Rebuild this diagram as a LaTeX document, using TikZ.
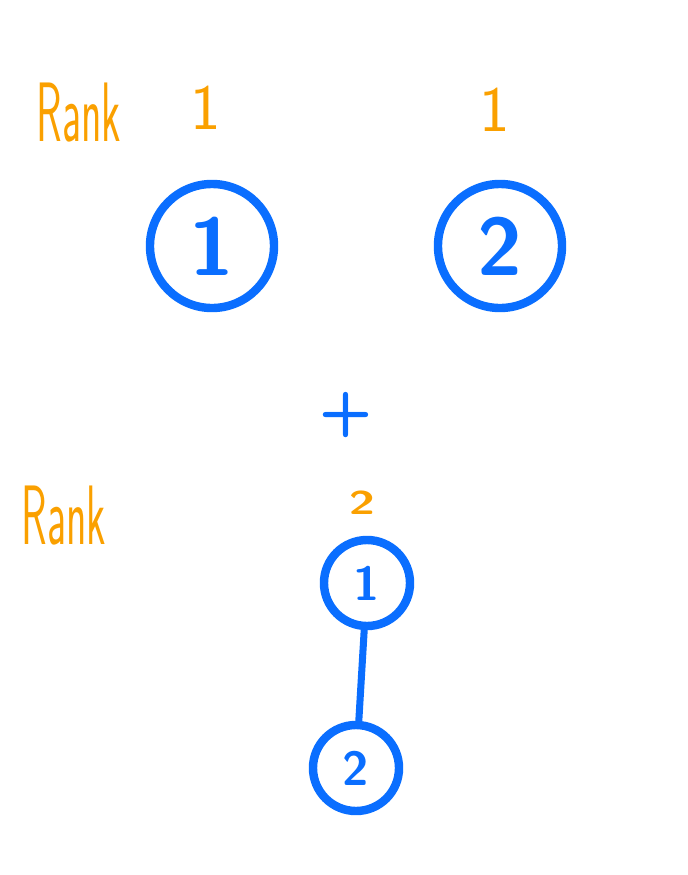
\documentclass[tikz,border=0pt]{standalone}
\usepackage{graphicx}
\usetikzlibrary{calc}
\definecolor{penblue}{RGB}{10,110,255}
\definecolor{penorange}{RGB}{250,160,0}
\begin{document}
\begin{tikzpicture}[x=0.025cm,y=-0.025cm,
    rank/.style={text=penorange,font=\sffamily\fontsize{30}{30}\selectfont,inner sep=0pt},
    big/.style={circle,draw=penblue,line width=6pt,minimum size=3.1cm,text=penblue,font=\sffamily\bfseries\fontsize{58}{58}\selectfont,inner sep=0pt},
    small/.style={big,minimum size=2.15cm,font=\sffamily\bfseries\fontsize{34}{34}\selectfont},
    link/.style={draw=penblue,line width=5pt,line cap=round}]
            \useasboundingbox (0,0) rectangle (688,875);
            \node[rank] (rtop) at (79,113) {\scalebox{1}[2]{Rank}};
            \node[rank,font=\sffamily\fontsize{46}{46}\selectfont] (k1) at (206,108) {1};
            \node[rank,font=\sffamily\fontsize{46}{46}\selectfont] (k2) at (495,110) {1};
            \node[big] (a1) at (212,246) {1};
            \node[big] (a2) at (500,246) {2};
            \node[text=penblue,font=\sffamily\bfseries\fontsize{44}{44}\selectfont] (plus) at (346,415) {+};
            \node[rank] (rbot) at (64,516) {\scalebox{1}[2]{Rank}};
            \node[rank,font=\sffamily\bfseries\fontsize{26}{26}\selectfont] (k3) at (362,503) {\scalebox{1.3}[0.9]{2}};
            \node[small] (b1) at (367,583) {1};
            \node[small] (b2) at (356,768) {2};
            \draw[link] (b1) -- (b2);
        \end{tikzpicture}
\end{document}
